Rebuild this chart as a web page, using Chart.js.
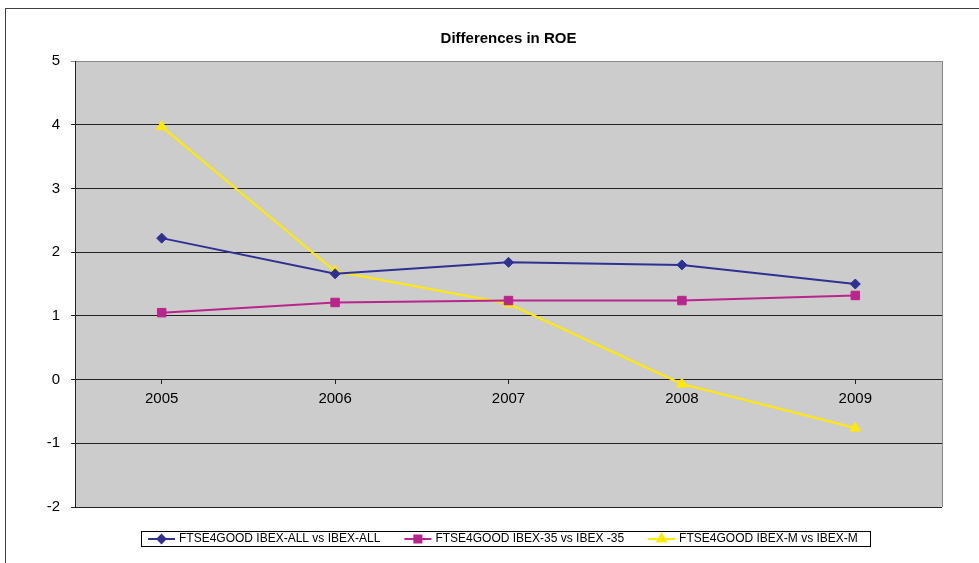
<!DOCTYPE html>
<html>
<head>
<meta charset="utf-8">
<title>Differences in ROE</title>
<script src="https://cdn.jsdelivr.net/npm/chart.js@4.4.1/dist/chart.umd.min.js"></script>
<style>
  html, body { margin: 0; padding: 0; background: #fff; }
  #grafico { display: block; }
</style>
</head>
<body>
<canvas id="grafico" width="979" height="563"></canvas>
<script>
// years on the x axis
const anos = ["2005", "2006", "2007", "2008", "2009"];

// ROE differences per index pair
const allVsAll = [2.22, 1.66, 1.84, 1.80, 1.50];
const ibex35 = [1.05, 1.21, 1.24, 1.24, 1.32];
const ibexM = [3.97, 1.70, 1.19, -0.07, -0.76];

const nomes = [
    "FTSE4GOOD IBEX-ALL vs IBEX-ALL",
    "FTSE4GOOD IBEX-35 vs IBEX -35",
    "FTSE4GOOD IBEX-M vs IBEX-M"
];

const yMin = -2;
const yMax = 5;

const fonte = "Arial, 'Liberation Sans', sans-serif";

// grey plot background, outer frame and the boxed legend
const molduraPlugin = {
    id: "moldura",
    beforeDraw(chart) {
        const ctx = chart.ctx;
        const a = chart.chartArea;
        ctx.save();
        ctx.fillStyle = "#fff";
        ctx.fillRect(0, 0, chart.width, chart.height);
        ctx.strokeStyle = "#404040";
        ctx.lineWidth = 1;
        ctx.strokeRect(5.5, 8.5, chart.width + 10, chart.height + 10);
        ctx.fillStyle = "#cccccc";
        ctx.fillRect(a.left, a.top, a.right - a.left, a.bottom - a.top);
        ctx.restore();
    },
    afterDraw(chart) {
        const ctx = chart.ctx;
        const a = chart.chartArea;
        ctx.save();
        // right edge of the plot
        ctx.strokeStyle = "#888";
        ctx.lineWidth = 1;
        ctx.beginPath();
        ctx.moveTo(Math.round(a.right) + 0.5, a.top);
        ctx.lineTo(Math.round(a.right) + 0.5, a.bottom);
        ctx.stroke();

        // legend
        const boxX = 141, boxY = 531, boxW = 729, boxH = 15;
        ctx.fillStyle = "#fff";
        ctx.fillRect(boxX, boxY, boxW, boxH);
        ctx.strokeStyle = "#000";
        ctx.strokeRect(boxX + 0.5, boxY + 0.5, boxW, boxH);

        ctx.font = "12px " + fonte;
        ctx.textBaseline = "middle";
        ctx.textAlign = "left";
        const cy = boxY + boxH / 2 + 0.5;
        let x = boxX + 7;
        chart.data.datasets.forEach((ds) => {
            ctx.strokeStyle = ds.borderColor;
            ctx.lineWidth = 2;
            ctx.beginPath();
            ctx.moveTo(x, cy);
            ctx.lineTo(x + 27, cy);
            ctx.stroke();
            ctx.fillStyle = ds.borderColor;
            Chart.helpers.drawPoint(ctx, {
                pointStyle: ds.pointStyle,
                radius: ds.legendRadius,
                borderWidth: 1,
                rotation: 0
            }, x + 13.5, cy);
            ctx.fillStyle = "#000";
            ctx.fillText(ds.label, x + 31, cy);
            x += 31 + ctx.measureText(ds.label).width + 24;
        });
        ctx.restore();
    }
};

const data = {
    labels: anos,
    datasets: [
        {
            label: nomes[0],
            data: allVsAll,
            borderColor: "#2E3192",
            backgroundColor: "#2E3192",
            pointStyle: "rectRot",
            pointRadius: 5,
            legendRadius: 4,
        },
        {
            label: nomes[1],
            data: ibex35,
            borderColor: "#B8258C",
            backgroundColor: "#B8258C",
            pointStyle: "rect",
            pointRadius: 6,
            legendRadius: 5,
        },
        {
            label: nomes[2],
            data: ibexM,
            borderColor: "#FFEA00",
            backgroundColor: "#FFEA00",
            pointStyle: "triangle",
            pointRadius: 6,
            legendRadius: 5,
        },
    ],
};

const config = {
    type: "line",
    data: data,
    plugins: [molduraPlugin],
    options: {
        responsive: false,
        animation: false,
        layout: {
            padding: { left: 0, right: 37, top: 0, bottom: 56 },
        },
        elements: {
            line: { borderWidth: 2, tension: 0 },
            point: { borderWidth: 1, hoverRadius: 6 },
        },
        plugins: {
            legend: { display: false },
            tooltip: { enabled: false },
            title: {
                display: true,
                text: "Differences in ROE",
                fullSize: false,
                color: "#000",
                font: { family: fonte, size: 15, weight: "bold", lineHeight: 1.2 },
                padding: { top: 30, bottom: 13 },
            },
        },
        scales: {
            x: {
                type: "category",
                offset: true,
                position: { y: 0 },
                border: { display: false },
                grid: {
                    drawOnChartArea: false,
                    drawTicks: true,
                    tickLength: 4,
                    color: "#222",
                },
                ticks: {
                    color: "#000",
                    padding: 6,
                    font: { family: fonte, size: 15 },
                },
            },
            y: {
                min: yMin,
                max: yMax,
                afterFit(scale) {
                    scale.width = 75;
                },
                border: { color: "#222", width: 1 },
                grid: {
                    color: (ctx) => (ctx.tick && ctx.tick.value === yMax ? "#888" : "#222"),
                    tickLength: 4,
                },
                ticks: {
                    stepSize: 1,
                    color: "#000",
                    padding: 11,
                    font: { family: fonte, size: 15 },
                },
            },
        },
    },
};

new Chart(document.getElementById("grafico"), config);
</script>
</body>
</html>
